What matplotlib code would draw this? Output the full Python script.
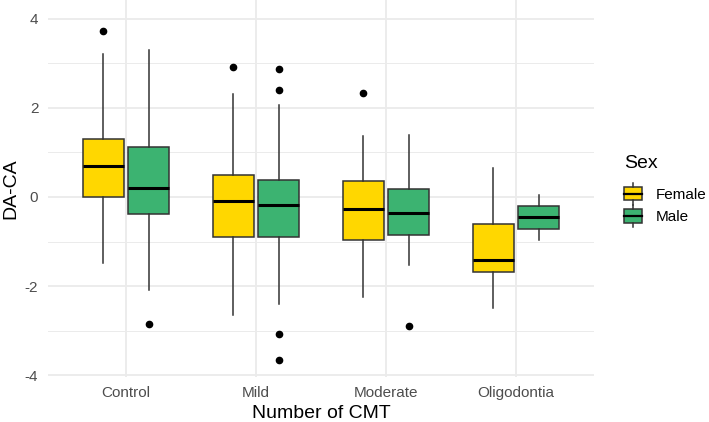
import matplotlib
matplotlib.use("Agg")
import matplotlib.pyplot as plt
from matplotlib.legend_handler import HandlerBase
from matplotlib.patches import Rectangle
from matplotlib.lines import Line2D

plt.rcParams['font.family'] = ['Liberation Sans', 'DejaVu Sans']

categories = ["Control", "Mild", "Moderate", "Oligodontia"]
sexes = ["Female", "Male"]
fill_colors = ["#FFD700", "#3CB371"]

female_whislo = [-1.47, -2.65, -2.25, -2.50]
female_q1 = [0.00, -0.90, -0.96, -1.69]
female_med = [0.69, -0.08, -0.26, -1.41]
female_q3 = [1.31, 0.49, 0.35, -0.61]
female_whishi = [3.21, 2.30, 1.36, 0.64]
female_fliers = [[3.71], [2.92], [2.33], []]

male_whislo = [-2.09, -2.39, -1.53, -0.96]
male_q1 = [-0.38, -0.90, -0.85, -0.72]
male_med = [0.20, -0.17, -0.37, -0.46]
male_q3 = [1.11, 0.39, 0.18, -0.21]
male_whishi = [3.30, 2.07, 1.40, 0.04]
male_fliers = [[-2.84], [2.86, 2.40, -3.08, -3.66], [-2.89], []]

y_ticks = [-4, -2, 0, 2, 4]
y_minor = [-3, -1, 1, 3]

series = [
    (female_whislo, female_q1, female_med, female_q3, female_whishi, female_fliers),
    (male_whislo, male_q1, male_med, male_q3, male_whishi, male_fliers),
]

W, H = 709, 422
fig = plt.figure(figsize=(W / 100, H / 100), dpi=100)
ax_bottom_px = 376.7
ax = fig.add_axes([48 / W, (H - ax_bottom_px) / H, (594 - 48) / W, ax_bottom_px / H])

edge = "#333333"
offsets = [-0.175, 0.175]
box_w = 0.315
for s_idx, (wl, q1, med, q3, wh, fl) in enumerate(series):
    stats = []
    for i in range(len(categories)):
        stats.append(dict(whislo=wl[i], q1=q1[i], med=med[i], q3=q3[i],
                          whishi=wh[i], fliers=fl[i]))
    pos = [i + 1 + offsets[s_idx] for i in range(len(categories))]
    ax.bxp(stats, positions=pos, widths=box_w, patch_artist=True,
           showcaps=False,
           boxprops=dict(facecolor=fill_colors[s_idx], edgecolor=edge, linewidth=1.1),
           whiskerprops=dict(color=edge, linewidth=1.1),
           medianprops=dict(color="black", linewidth=2.2, solid_capstyle='butt'),
           flierprops=dict(marker='o', markerfacecolor='black', markeredgecolor='black',
                           markersize=4.5),
           zorder=3)

ax.set_xlim(0.4, 4.6)
ax.set_ylim(-4.03, -4.03 + ax_bottom_px / 44.6)
ax.set_xticks(range(1, len(categories) + 1))
ax.set_xticklabels(categories)
ax.set_yticks(y_ticks)
ax.set_yticklabels([str(v) for v in y_ticks])
ax.set_yticks(y_minor, minor=True)

ax.grid(which='major', axis='both', color='#EBEBEB', linewidth=1.3, zorder=0)
ax.grid(which='minor', axis='y', color='#EBEBEB', linewidth=0.7, zorder=0)
ax.set_axisbelow(True)
for sp in ax.spines.values():
    sp.set_visible(False)
ax.tick_params(which='both', length=0)
ax.tick_params(axis='x', pad=7, labelsize=11, labelcolor='#4D4D4D')
ax.tick_params(axis='y', pad=7, labelsize=11, labelcolor='#4D4D4D')

ax.set_xlabel("Number of CMT", fontsize=14, color='black')
ax.xaxis.set_label_coords(0.5, (ax_bottom_px - 413) / ax_bottom_px)
ax.xaxis.label.set_va('center')
ax.set_ylabel("DA-CA", fontsize=14, color='black')
ax.yaxis.set_label_coords(-37 / 546, 0.5)
ax.yaxis.label.set_va('center')


class BoxKey(HandlerBase):
    def create_artists(self, legend, orig_handle, xdescent, ydescent, width, height,
                       fontsize, trans):
        cx = width / 2 - xdescent
        cy = height / 2 - ydescent
        bh = height * 1.25
        rect = Rectangle((-xdescent, cy - bh / 2), width, bh,
                         facecolor=orig_handle.get_facecolor(), edgecolor=edge,
                         linewidth=1.1, transform=trans)
        med = Line2D([-xdescent, width - xdescent], [cy, cy], color='black',
                     linewidth=1.6, transform=trans)
        w1 = Line2D([cx, cx], [cy + bh / 2, cy + bh / 2 + 3], color=edge,
                    linewidth=1.1, transform=trans)
        w2 = Line2D([cx, cx], [cy - bh / 2, cy - bh / 2 - 3], color=edge,
                    linewidth=1.1, transform=trans)
        return [rect, med, w1, w2]


fig.text(624 / W, 1 - 163 / H, "Sex", fontsize=14, ha='left', va='center')
handles = [Rectangle((0, 0), 1, 1, facecolor=c) for c in fill_colors]
leg = fig.legend(handles, sexes, loc='upper left',
                 bbox_to_anchor=(624 / W, 1 - 188 / H), frameon=False,
                 fontsize=11, alignment='left',
                 handler_map={Rectangle: BoxKey()},
                 handlelength=1.18, handleheight=0.7, handletextpad=0.9,
                 labelspacing=0.55, borderpad=0, borderaxespad=0)

fig.savefig("out.png", dpi=100, facecolor='white')
